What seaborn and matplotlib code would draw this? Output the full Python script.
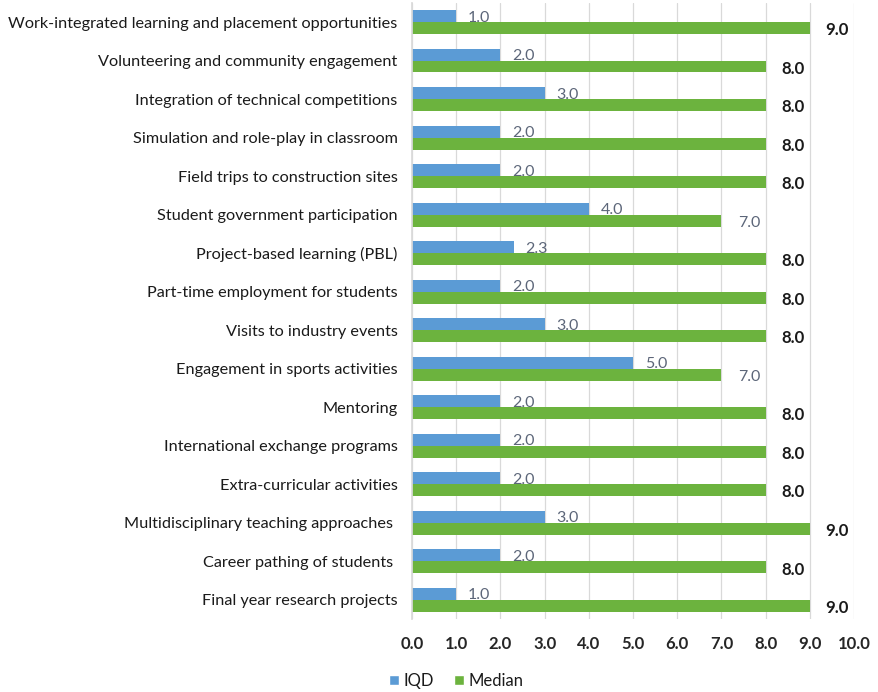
import matplotlib
matplotlib.use("Agg")
import matplotlib.pyplot as plt
import seaborn as sns
import pandas as pd
from matplotlib.patches import Patch

categories = [
    "Work-integrated learning and placement opportunities",
    "Volunteering and community engagement",
    "Integration of technical competitions",
    "Simulation and role-play in classroom",
    "Field trips to construction sites",
    "Student government participation",
    "Project-based learning (PBL)",
    "Part-time employment for students",
    "Visits to industry events",
    "Engagement in sports activities",
    "Mentoring",
    "International exchange programs",
    "Extra-curricular activities",
    "Multidisciplinary teaching approaches ",
    "Career pathing of students ",
    "Final year research projects",
]
iqd = [1.0, 2.0, 3.0, 2.0, 2.0, 4.0, 2.3, 2.0, 3.0, 5.0, 2.0, 2.0, 2.0, 3.0, 2.0, 1.0]
median = [9.0, 8.0, 8.0, 8.0, 8.0, 7.0, 8.0, 8.0, 8.0, 7.0, 8.0, 8.0, 8.0, 9.0, 8.0, 9.0]
series_names = ["IQD", "Median"]
x_ticks = [0, 1, 2, 3, 4, 5, 6, 7, 8, 9, 10]

BLUE = "#5b9bd5"
GREEN = "#6cb33e"
LABEL_GRAY = "#5c6679"
DARK = "#1a1a1a"

sns.set_theme(style="white")
plt.rcParams["font.family"] = ["Lato", "DejaVu Sans"]

df = pd.DataFrame({
    "Practice": categories * 2,
    "Value": iqd + median,
    "Series": [series_names[0]] * len(categories) + [series_names[1]] * len(categories),
})

fig = plt.figure(figsize=(8.79, 6.92), dpi=100)
ax = fig.add_axes([0.4687, 0.1055, 0.5029, 0.8905])

sns.barplot(data=df, x="Value", y="Practice", hue="Series", hue_order=series_names,
            palette=[BLUE, GREEN], orient="h", width=0.62, ax=ax, legend=False,
            edgecolor="none", saturation=1)

ax.set_xlim(0, 10)
ax.set_xticks(x_ticks)
ax.set_xticklabels([f"{t:.1f}" for t in x_ticks], fontsize=12, fontweight="bold", color="#262626")
ax.set_xlabel("")
ax.set_ylabel("")
ax.tick_params(axis="y", labelsize=11.7, length=0, pad=10.5, labelcolor=DARK)
ax.tick_params(axis="x", length=0, pad=12)
ax.grid(axis="x", color="#d9d9d9", linewidth=0.9)
ax.set_axisbelow(True)
for side in ["top", "right", "bottom"]:
    ax.spines[side].set_visible(False)
ax.spines["left"].set_color("#d9d9d9")

# Value labels next to each bar
bar_h = 0.31
for i, (a, m) in enumerate(zip(iqd, median)):
    ax.text(a + 0.27, i - bar_h / 2 + 0.04, f"{a:.1f}", ha="left", va="center",
            fontsize=11.5, color=LABEL_GRAY)
    if m >= 8:
        ax.text(m + 0.35, i + bar_h / 2 + 0.06, f"{m:.1f}", ha="left", va="center",
                fontsize=12, color=DARK, fontweight="bold")
    else:
        ax.text(m + 0.38, i + bar_h / 2 + 0.06, f"{m:.1f}", ha="left", va="center",
                fontsize=11.5, color=LABEL_GRAY)

handles = [Patch(facecolor=BLUE, label=series_names[0]),
           Patch(facecolor=GREEN, label=series_names[1])]
fig.legend(handles=handles, loc="lower left", bbox_to_anchor=(0.425, -0.017), ncol=2,
           frameon=False, fontsize=12, handlelength=0.6, handleheight=0.6,
           handletextpad=0.3, columnspacing=1.2, labelcolor=DARK)

fig.savefig("out.png", dpi=100)
